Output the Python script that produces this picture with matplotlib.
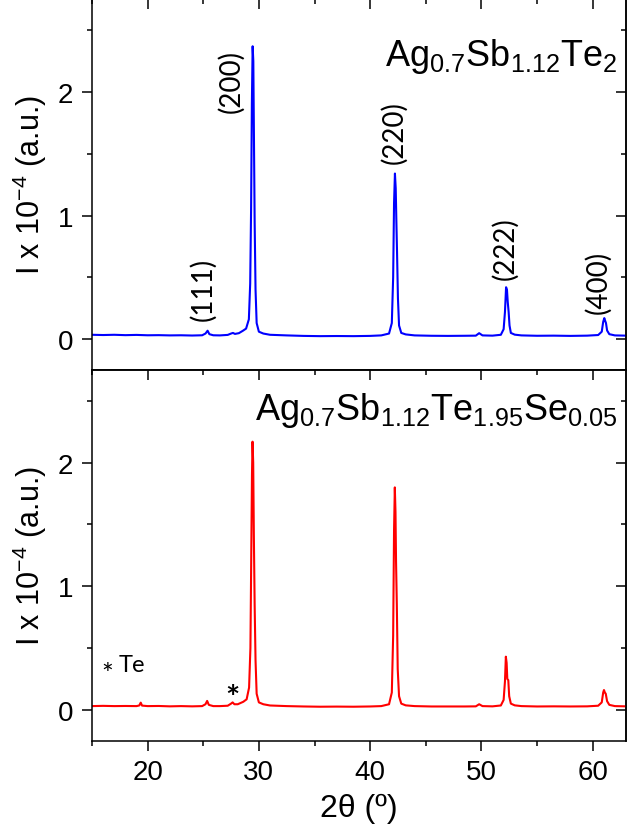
import matplotlib
matplotlib.use("Agg")
import matplotlib.pyplot as plt
from matplotlib.ticker import MultipleLocator

plt.rcParams['font.family'] = ['Liberation Sans', 'DejaVu Sans']
plt.rcParams['mathtext.fontset'] = 'custom'
plt.rcParams['mathtext.rm'] = 'Liberation Sans'
plt.rcParams['mathtext.it'] = 'Liberation Sans:italic'
plt.rcParams['mathtext.bf'] = 'Liberation Sans:bold'

# ---- Data: Ag0.7Sb1.12Te2 (top, blue) ----
two_theta_a = [15.0, 16.0, 17.0, 18.0, 19.0, 20.0, 21.0, 22.0, 23.0, 24.0, 24.9, 25.2, 25.39, 25.55,
               25.9, 26.5, 27.2, 27.5, 27.67, 27.85, 28.2, 28.57, 28.85, 29.1, 29.22, 29.3, 29.37,
               29.44, 29.5, 29.56, 29.62, 29.7, 29.8, 30.0, 30.4, 31.0, 32.5, 34.0, 35.5, 37.0,
               38.5, 40.0, 41.0, 41.7, 41.95, 42.07, 42.15, 42.23, 42.3, 42.36, 42.42, 42.5, 42.6,
               42.8, 43.2, 44.0, 45.5, 47.0, 48.5, 49.5, 49.8, 50.1, 51.0, 51.75, 52.0, 52.12, 52.22,
               52.3, 52.37, 52.45, 52.53, 52.65, 53.0, 53.6, 55.0, 56.5, 58.0, 59.5, 60.5, 60.82, 60.95,
               61.05, 61.12, 61.2, 61.3, 61.5, 62.0, 63.0]
intensity_a = [0.035, 0.033, 0.035, 0.032, 0.034, 0.031, 0.032, 0.030, 0.031, 0.029, 0.031, 0.045,
               0.068, 0.040, 0.031, 0.030, 0.034, 0.045, 0.050, 0.042, 0.048, 0.068, 0.085, 0.16,
               0.45, 1.05, 1.9, 2.37, 2.25, 1.6, 0.95, 0.40, 0.13, 0.06, 0.045, 0.035, 0.030, 0.026,
               0.024, 0.025, 0.024, 0.026, 0.030, 0.045, 0.13, 0.50, 1.10, 1.34, 1.22, 0.95, 0.70,
               0.33, 0.11, 0.05, 0.038, 0.030, 0.027, 0.026, 0.027, 0.028, 0.048, 0.030, 0.028,
               0.035, 0.08, 0.22, 0.42, 0.40, 0.30, 0.22, 0.11, 0.05, 0.036, 0.030, 0.027, 0.028,
               0.026, 0.028, 0.033, 0.06, 0.14, 0.17, 0.15, 0.13, 0.07, 0.040, 0.030, 0.028]

# ---- Data: Ag0.7Sb1.12Te1.95Se0.05 (bottom, red) ----
two_theta_b = [15.0, 16.0, 17.0, 18.0, 19.0, 19.25, 19.38, 19.5, 20.0, 21.0, 22.0, 23.0, 24.0, 24.9,
               25.2, 25.35, 25.5, 25.9, 26.5, 27.2, 27.5, 27.64, 27.8, 28.1, 28.6, 28.9, 29.12, 29.24,
               29.32, 29.38, 29.43, 29.49, 29.55, 29.62, 29.7, 29.8, 30.0, 30.4, 31.0, 32.5, 34.0,
               35.5, 37.0, 38.5, 40.0, 41.0, 41.7, 41.95, 42.07, 42.15, 42.22, 42.28, 42.33, 42.4,
               42.48, 42.6, 42.8, 43.2, 44.0, 45.5, 47.0, 48.5, 49.5, 49.8, 50.1, 51.0, 51.75, 52.0,
               52.12, 52.2, 52.27, 52.33, 52.42, 52.5, 52.65, 53.0, 53.6, 55.0, 56.5, 58.0, 59.5, 60.5,
               60.82, 60.95, 61.02, 61.1, 61.18, 61.3, 61.5, 62.0, 63.0]
intensity_b = [0.030, 0.032, 0.030, 0.031, 0.030, 0.035, 0.058, 0.034, 0.030, 0.031, 0.028, 0.030,
               0.028, 0.030, 0.045, 0.072, 0.040, 0.030, 0.030, 0.033, 0.050, 0.060, 0.045, 0.045,
               0.065, 0.085, 0.18, 0.50, 1.30, 1.90, 2.17, 2.00, 1.40, 0.85, 0.40, 0.13, 0.06, 0.045,
               0.035, 0.030, 0.027, 0.025, 0.026, 0.025, 0.027, 0.030, 0.045, 0.14, 0.60, 1.45, 1.80,
               1.60, 1.20, 0.85, 0.33, 0.11, 0.05, 0.036, 0.030, 0.027, 0.027, 0.027, 0.028, 0.045,
               0.030, 0.028, 0.035, 0.08, 0.23, 0.43, 0.38, 0.25, 0.24, 0.11, 0.05, 0.036, 0.030,
               0.027, 0.028, 0.027, 0.028, 0.033, 0.06, 0.14, 0.16, 0.14, 0.13, 0.07, 0.040, 0.030,
               0.028]

peak_labels = ["(111)", "(200)", "(220)", "(222)", "(400)"]
peak_label_x = [24.95, 27.5, 42.15, 52.1, 60.5]
peak_label_y = [0.41, 2.09, 1.68, 0.74, 0.47]

title_a = r"$\mathregular{Ag_{0.7}Sb_{1.12}Te_{2}}$"
title_b = r"$\mathregular{Ag_{0.7}Sb_{1.12}Te_{1.95}Se_{0.05}}$"
y_label = r"I x 10$^{\mathregular{-4}}$ (a.u.)"
x_label = "2θ (º)"
te_marker_x = 27.64
te_marker_y = 0.09

fig = plt.figure(figsize=(6.28, 8.29), dpi=100)
left, width = 92 / 628, 534 / 628
h = 370.7 / 829
ax_top = fig.add_axes([left, 1 - 371 / 829, width, h])
ax_bot = fig.add_axes([left, 1 - 741.7 / 829, width, h])

ax_top.plot(two_theta_a, intensity_a, color='#0000FF', lw=1.5)
ax_bot.plot(two_theta_b, intensity_b, color='#FF0000', lw=1.5)

for ax in (ax_top, ax_bot):
    ax.set_xlim(15, 63)
    ax.set_ylim(-0.25, 2.75)
    ax.xaxis.set_major_locator(MultipleLocator(10))
    ax.xaxis.set_minor_locator(MultipleLocator(5))
    ax.yaxis.set_major_locator(MultipleLocator(1))
    ax.yaxis.set_minor_locator(MultipleLocator(0.5))
    ax.tick_params(which='both', direction='out', top=False, right=False,
                   labelsize=20, width=1.1, pad=6)
    ax.tick_params(which='major', length=7.5)
    ax.tick_params(which='minor', length=3.5)
    for s in ax.spines.values():
        s.set_linewidth(1.1)
    sx = ax.secondary_xaxis('top')
    sx.xaxis.set_major_locator(MultipleLocator(10))
    sx.xaxis.set_minor_locator(MultipleLocator(5))
    sx.tick_params(which='both', direction='in', labeltop=False, width=1.1)
    sx.tick_params(which='major', length=7.5)
    sx.tick_params(which='minor', length=3.5)
    sx.spines['top'].set_linewidth(1.1)
    sy = ax.secondary_yaxis('right')
    sy.yaxis.set_major_locator(MultipleLocator(1))
    sy.yaxis.set_minor_locator(MultipleLocator(0.5))
    sy.tick_params(which='both', direction='in', labelright=False, width=1.1)
    sy.tick_params(which='major', length=7.5)
    sy.tick_params(which='minor', length=3.5)
    sy.spines['right'].set_linewidth(1.1)

ax_top.tick_params(labelbottom=False)

for lab, x, y in zip(peak_labels, peak_label_x, peak_label_y):
    ax_top.text(x, y, lab, rotation=90, ha='center', va='center', fontsize=20,
                family=['Lato', 'DejaVu Sans'])

ax_top.text(0.985, 0.822, title_a, transform=ax_top.transAxes, ha='right', va='baseline',
            fontsize=26)
ax_bot.text(0.985, 0.868, title_b, transform=ax_bot.transAxes, ha='right', va='baseline',
            fontsize=26)

ax_bot.text(te_marker_x, te_marker_y, "*", ha='center', va='center', fontsize=24,
            fontweight='bold', family=['Lato', 'DejaVu Sans'])
ax_bot.text(16.4, 0.28, "*", ha='center', va='center', fontsize=20,
            family=['Lato', 'DejaVu Sans'])
ax_bot.text(17.4, 0.37, "Te", ha='left', va='center', fontsize=17,
            family=['Lato', 'DejaVu Sans'])

ax_bot.set_xlabel(x_label, fontsize=23, labelpad=5)

fig.text(30 / 628, 1 - 185 / 829, y_label, rotation=90, ha='center', va='center', fontsize=22)
fig.text(30 / 628, 1 - 556 / 829, y_label, rotation=90, ha='center', va='center', fontsize=22)

fig.savefig("out.png", dpi=100)
